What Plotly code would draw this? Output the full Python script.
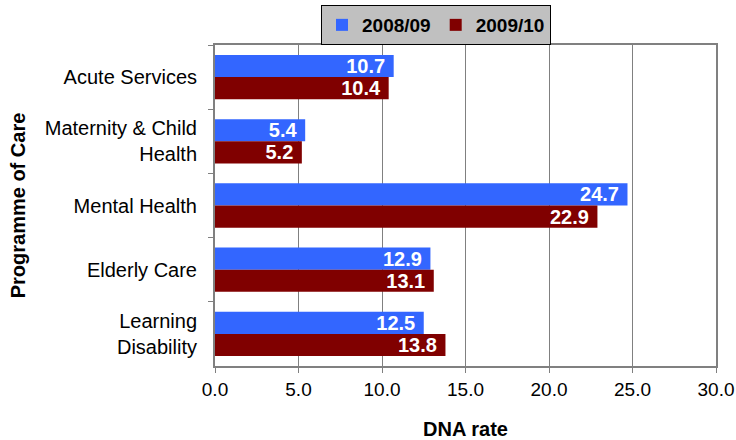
import plotly.graph_objects as go

categories = ["Acute Services", "Maternity & Child<br>Health", "Mental Health", "Elderly Care", "Learning<br>Disability"]
series_names = ["2008/09", "2009/10"]
values_0809 = [10.7, 5.4, 24.7, 12.9, 12.5]
values_0910 = [10.4, 5.2, 22.9, 13.1, 13.8]
x_ticks = [0, 5, 10, 15, 20, 25, 30]
x_tick_labels = ["0.0", "5.0", "10.0", "15.0", "20.0", "25.0", "30.0"]

colors = ["#3366FF", "#800000"]
FONT = "Arial, Liberation Sans, sans-serif"

fig = go.Figure()
for name, vals, col in zip(series_names, [values_0809, values_0910], colors):
    fig.add_trace(go.Bar(
        y=categories, x=vals, name=name, orientation="h",
        marker=dict(color=col, line=dict(width=0)),
        text=[f"{v:.1f}\u00a0" for v in vals],
        textposition="inside", insidetextanchor="end",
        constraintext="none",
        textfont=dict(family=FONT, size=20, color="white", weight="bold"),
    ))

fig.update_layout(
    width=736, height=440,
    margin=dict(l=215, r=20, t=45, b=74, autoexpand=False),
    paper_bgcolor="white", plot_bgcolor="white",
    barmode="group", bargap=0.31, bargroupgap=0,
    font=dict(family=FONT, size=19, color="black"),
    legend=dict(
        orientation="h", x=0.2116, y=1.1246, xanchor="left", yanchor="top",
        bgcolor="#C0C0C0", bordercolor="black", borderwidth=1,
        font=dict(family=FONT, size=19, color="black", weight="bold"),
        itemwidth=30, tracegroupgap=0,
    ),
    xaxis=dict(
        range=[0, 30], tickvals=x_ticks, ticktext=x_tick_labels,
        showgrid=True, gridcolor="#808080", gridwidth=1,
        showline=True, linecolor="#808080", linewidth=2, mirror=True,
        ticks="outside", ticklen=5, tickcolor="#808080",
        tickfont=dict(size=19),
        zeroline=False, automargin=False,
        title=dict(text="<b>DNA rate</b>", font=dict(size=20), standoff=24),
    ),
    yaxis=dict(
        autorange="reversed",
        showline=True, linecolor="#808080", linewidth=2, mirror=True,
        ticks="outside", ticklen=5, tickcolor="#808080", tickson="boundaries",
        tickfont=dict(size=20),
        ticklabelstandoff=12, automargin=False,
        title=dict(text="<b>Programme of Care</b>", font=dict(size=20), standoff=14),
    ),
)

fig.write_html("out.html", config={"displayModeBar": False},
               post_script="document.body.style.margin='0';")
